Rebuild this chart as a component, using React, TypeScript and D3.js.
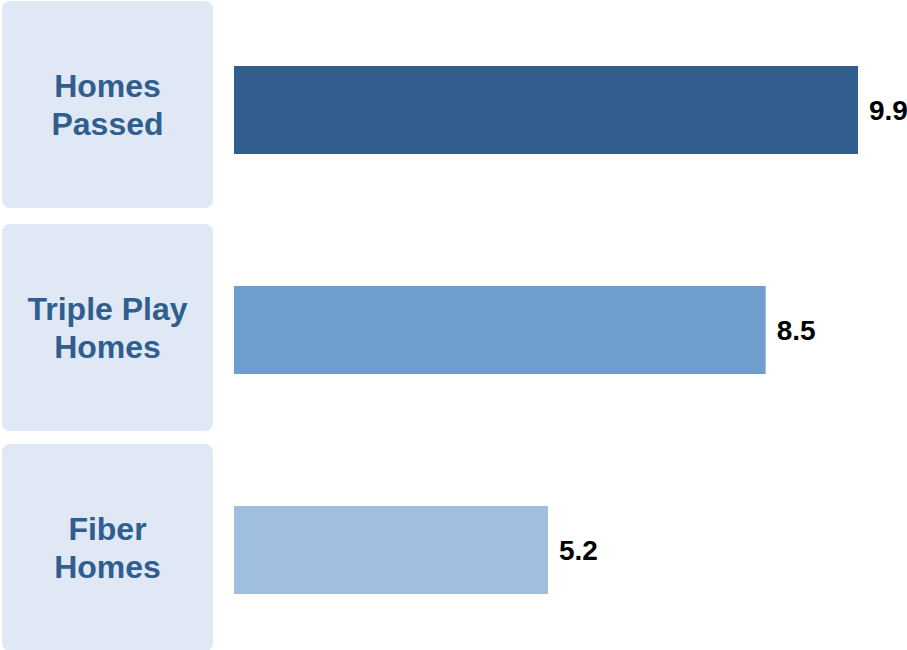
import React from "react";
import * as d3 from "d3";

const categories: string[][] = [["Homes", "Passed"], ["Triple Play", "Homes"], ["Fiber", "Homes"]];
const values: number[] = [9.9, 8.5, 5.2];
const valueLabels: string[] = ["9.9", "8.5", "5.2"];
const barColors: string[] = ["#325e8d", "#6f9dcd", "#a0bfdf"];

const W = 907;
const H = 650;

export default function App() {
  const keys = categories.map((c) => c.join(" "));
  const y = d3.scaleBand<string>().domain(keys).range([0, 660]).paddingInner(0.6).paddingOuter(0.3);
  const x = d3.scaleLinear().domain([0.44, 9.9]).range([234, 858]);
  const fontSize = 32;
  const lineH = 38;
  const cap = fontSize * 0.716;
  return (
    <svg width={W} height={H} style={{ position: "absolute", left: 0, top: 0, display: "block" }}
      fontFamily="'Liberation Sans', Arial, Helvetica, sans-serif">
      <rect x={0} y={0} width={W} height={H} fill="#ffffff" />
      {keys.map((k, i) => {
        const by = y(k) as number;
        const bw = y.bandwidth();
        const py = by - (i === 0 ? 65 : 62);
        const ph = 207;
        const pc = py + ph / 2;
        const lines = categories[i];
        const b1 = pc + cap / 2 - ((lines.length - 1) * lineH) / 2 + 0.5;
        return (
          <g key={k}>
            <rect x={2} y={py} width={211} height={ph} rx={8} ry={8} fill="#dfe8f4" />
            <text x={107.5} textAnchor="middle" fontSize={fontSize} fontWeight="bold" fill="#2f5e8f">
              {lines.map((ln, j) => (
                <tspan key={j} x={107.5} y={b1 + j * lineH}>{ln}</tspan>
              ))}
            </text>
            <rect x={x.range()[0]} y={by} width={x(values[i]) - x.range()[0]} height={bw} fill={barColors[i]} />
            <text x={x(values[i]) + 11} y={by + bw / 2 + 10} fontSize={28} fontWeight="bold" fill="#000000">
              {valueLabels[i]}
            </text>
          </g>
        );
      })}
    </svg>
  );
}
